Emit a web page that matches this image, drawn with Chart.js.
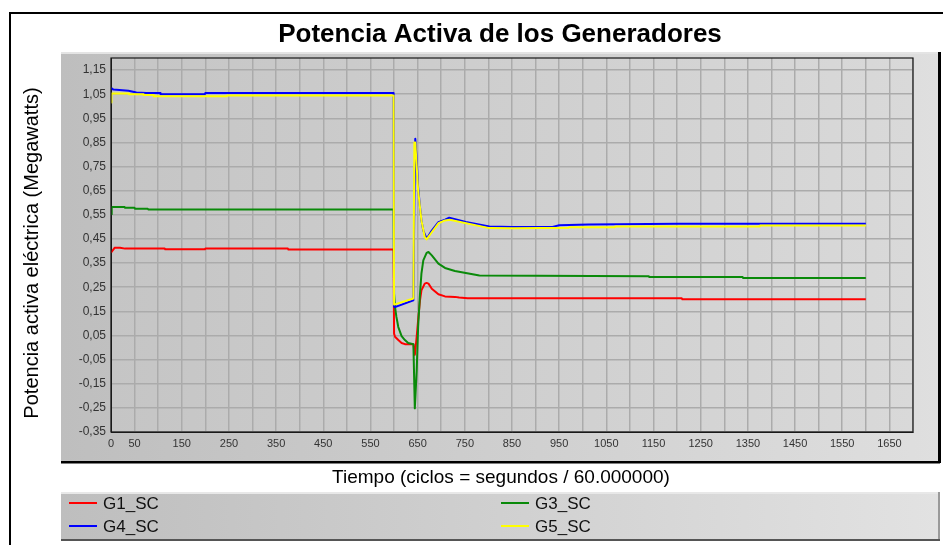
<!DOCTYPE html>
<html lang="es">
<head>
<meta charset="utf-8">
<title>Potencia Activa de los Generadores</title>
<script src="https://cdn.jsdelivr.net/npm/chart.js@4/dist/chart.umd.min.js"></script>
<style>
  html, body { margin: 0; padding: 0; background: #fff; }
  #grafico { display: block; }
</style>
</head>
<body>
<canvas id="grafico" width="943" height="545"></canvas>
<script>
/* ============================================================
   Datos: tiempo en ciclos, potencia en MW
   ============================================================ */
const g1T = [0, 8, 19, 30, 114, 115, 199, 200, 375, 376, 599, 600, 602, 609, 616, 623, 641, 644, 648, 651, 655, 658, 665, 669, 673, 680, 694, 708, 729, 738, 756, 1210, 1211, 1600];
const g1V = [0.393, 0.414, 0.414, 0.41, 0.41, 0.407, 0.407, 0.41, 0.41, 0.406, 0.406, 0.058, 0.045, 0.031, 0.019, 0.014, 0.014, -0.03, 0.045, 0.113, 0.196, 0.237, 0.265, 0.268, 0.265, 0.244, 0.221, 0.212, 0.21, 0.207, 0.204, 0.204, 0.2, 0.2];

const g3T = [0, 1, 2, 29, 30, 50, 51, 78, 79, 599, 600, 602, 605, 609, 616, 623, 630, 641, 644, 648, 651, 655, 658, 662, 669, 673, 680, 694, 708, 729, 781, 1140, 1141, 1339, 1340, 1600];
const g3V = [0.552, 0.579, 0.582, 0.582, 0.579, 0.579, 0.575, 0.575, 0.572, 0.572, 0.224, 0.168, 0.127, 0.085, 0.047, 0.031, 0.019, 0.014, -0.252, -0.094, 0.085, 0.224, 0.306, 0.361, 0.392, 0.396, 0.382, 0.348, 0.33, 0.317, 0.299, 0.296, 0.292, 0.292, 0.288, 0.288];

const g4T = [0, 5, 37, 54, 75, 104, 105, 199, 200, 599, 600, 602, 612, 641, 643, 645, 648, 651, 655, 658, 662, 669, 680, 694, 708, 717, 752, 802, 851, 936, 950, 1012, 1202, 1600];
const g4V = [1.076, 1.069, 1.064, 1.057, 1.055, 1.055, 1.05, 1.05, 1.055, 1.055, 0.17, 0.168, 0.175, 0.196, 0.6, 0.865, 0.775, 0.664, 0.582, 0.527, 0.485, 0.451, 0.485, 0.52, 0.53, 0.538, 0.52, 0.502, 0.5, 0.5, 0.507, 0.51, 0.513, 0.513];

const g5T = [0, 1, 37, 38, 68, 69, 90, 91, 245, 246, 599, 600, 641, 643, 645, 651, 658, 665, 669, 680, 694, 708, 718, 802, 851, 970, 971, 1068, 1069, 1375, 1376, 1600];
const g5V = [1.016, 1.053, 1.053, 1.05, 1.05, 1.047, 1.047, 1.041, 1.041, 1.045, 1.045, 0.178, 0.203, 0.85, 0.85, 0.651, 0.527, 0.458, 0.448, 0.478, 0.515, 0.527, 0.53, 0.495, 0.494, 0.497, 0.499, 0.499, 0.502, 0.502, 0.506, 0.506];

const seriesNames = ['G1_SC', 'G3_SC', 'G4_SC', 'G5_SC'];

// Ejes
const xTickLabels = [0, 50, 150, 250, 350, 450, 550, 650, 750, 850, 950, 1050, 1150, 1250, 1350, 1450, 1550, 1650];
const yTicks = [-0.35, -0.25, -0.15, -0.05, 0.05, 0.15, 0.25, 0.35, 0.45, 0.55, 0.65, 0.75, 0.85, 0.95, 1.05, 1.15];
const X_MIN = 0, X_MAX = 1700, X_STEP = 50;
const Y_MIN = -0.35, Y_MAX = 1.2;

const TITLE  = 'Potencia Activa de los Generadores';
const XTITLE = 'Tiempo (ciclos = segundos / 60.000000)';
const YTITLE = 'Potencia activa eléctrica (Megawatts)';

/* ============================================================
   Estilos
   ============================================================ */
const FONT = '"Liberation Sans", Arial, sans-serif';
const COLORS = ['#ff0000', '#0a8a0a', '#0000ff', '#ffff00'];

function toPoints(ts, vs) {
  return ts.map((t, i) => ({ x: t, y: vs[i] }));
}

const seriesData = [toPoints(g1T, g1V), toPoints(g3T, g3V), toPoints(g4T, g4V), toPoints(g5T, g5V)];

// Fondo, marcos, títulos y leyenda (estilo del programa original)
const marco = {
  id: 'marco',
  beforeDraw(chart) {
    const { ctx, chartArea: a } = chart;
    ctx.save();
    ctx.fillStyle = '#ffffff';
    ctx.fillRect(0, 0, chart.width, chart.height);

    // panel gris del gráfico
    let g = ctx.createLinearGradient(61, 0, 939, 0);
    g.addColorStop(0, '#bebebe');
    g.addColorStop(1, '#dfdfdf');
    ctx.fillStyle = g;
    ctx.fillRect(61, 52, 878, 410);
    ctx.fillStyle = '#e4e4e4';
    ctx.fillRect(61, 52, 878, 2);

    // área de trazado
    g = ctx.createLinearGradient(a.left, 0, a.right, 0);
    g.addColorStop(0, '#c5c5c5');
    g.addColorStop(1, '#d9d9d9');
    ctx.fillStyle = g;
    ctx.fillRect(a.left, a.top, a.right - a.left, a.bottom - a.top);

    // caja de la leyenda
    g = ctx.createLinearGradient(61, 0, 939, 0);
    g.addColorStop(0, '#bebebe');
    g.addColorStop(1, '#e2e2e2');
    ctx.fillStyle = g;
    ctx.fillRect(61, 492, 879, 48);
    ctx.fillStyle = '#e8e8e8';
    ctx.fillRect(61, 492, 879, 2);
    ctx.fillStyle = '#9a9a9a';
    ctx.fillRect(938, 492, 2, 48);
    ctx.fillStyle = '#555555';
    ctx.fillRect(61, 539, 879, 2);

    // bordes negros
    ctx.fillStyle = '#000000';
    ctx.fillRect(9, 12, 934, 2);      // marco exterior arriba
    ctx.fillRect(9, 12, 2, 533);      // marco exterior izquierda
    ctx.fillRect(61, 461, 879, 2.5);  // panel abajo
    ctx.fillRect(938, 52, 3, 411);    // panel derecha
    ctx.restore();
  },
  afterDraw(chart) {
    const { ctx, chartArea: a } = chart;
    ctx.save();
    ctx.strokeStyle = '#1a1a1a';
    ctx.lineWidth = 1.2;
    ctx.strokeRect(a.left, a.top, a.right - a.left, a.bottom - a.top);

    ctx.fillStyle = '#000';
    ctx.textAlign = 'center';
    ctx.textBaseline = 'middle';
    ctx.font = 'bold 26px ' + FONT;
    ctx.fillText(TITLE, 500, 35);

    ctx.font = '19px ' + FONT;
    ctx.fillText(XTITLE, 501, 478);

    ctx.save();
    ctx.translate(32, 253);
    ctx.rotate(-Math.PI / 2);
    ctx.font = '20px ' + FONT;
    ctx.fillText(YTITLE, 0, 0);
    ctx.restore();

    // leyenda en dos columnas
    const cols = [69, 501];
    const rows = [503, 526];
    ctx.font = '17px ' + FONT;
    ctx.textAlign = 'left';
    chart.data.datasets.forEach((ds, i) => {
      const x = cols[i % 2], y = rows[Math.floor(i / 2)];
      ctx.strokeStyle = ds.borderColor;
      ctx.lineWidth = 2;
      ctx.beginPath();
      ctx.moveTo(x, y);
      ctx.lineTo(x + 28, y);
      ctx.stroke();
      ctx.fillStyle = '#111';
      ctx.fillText(ds.label, x + 34, y + 1);
    });
    ctx.restore();
  }
};

new Chart(document.getElementById('grafico'), {
  type: 'line',
  data: {
    datasets: seriesNames.map((name, i) => ({
      label: name,
      data: seriesData[i],
      borderColor: COLORS[i],
      backgroundColor: COLORS[i],
      borderWidth: 2,
      borderJoinStyle: 'round',
      pointRadius: 0,
      tension: 0,
      fill: false,
      order: seriesNames.length - i,
    })),
  },
  options: {
    responsive: false,
    animation: false,
    devicePixelRatio: 1,
    layout: { padding: { left: 61, right: 30, top: 58, bottom: 93 } },
    plugins: {
      legend: { display: false },
      title: { display: false },
      tooltip: { enabled: false },
    },
    scales: {
      x: {
        type: 'linear',
        min: X_MIN,
        max: X_MAX,
        afterBuildTicks: (s) => {
          const t = [];
          for (let v = X_MIN; v <= X_MAX; v += X_STEP) t.push({ value: v });
          s.ticks = t;
        },
        afterFit: (s) => { s.height = 20; },
        ticks: {
          autoSkip: false,
          maxRotation: 0,
          minRotation: 0,
          padding: 5,
          color: '#333',
          font: { size: 11, family: FONT },
          callback: (v) => (xTickLabels.includes(v) ? String(v) : ''),
        },
        grid: { color: '#ababab', lineWidth: 1.5, drawTicks: false },
        border: { display: true, color: '#1a1a1a', width: 1 },
      },
      y: {
        min: Y_MIN,
        max: Y_MAX,
        afterBuildTicks: (s) => { s.ticks = yTicks.map((v) => ({ value: v })); },
        afterFit: (s) => { s.width = 50; },
        ticks: {
          padding: 5,
          color: '#333',
          font: { size: 12, family: FONT },
          callback: (v) => v.toFixed(2).replace('.', ','),
        },
        grid: { color: '#ababab', lineWidth: 1.5, drawTicks: false },
        border: { display: true, color: '#1a1a1a', width: 1 },
      },
    },
  },
  plugins: [marco],
});
</script>
</body>
</html>
